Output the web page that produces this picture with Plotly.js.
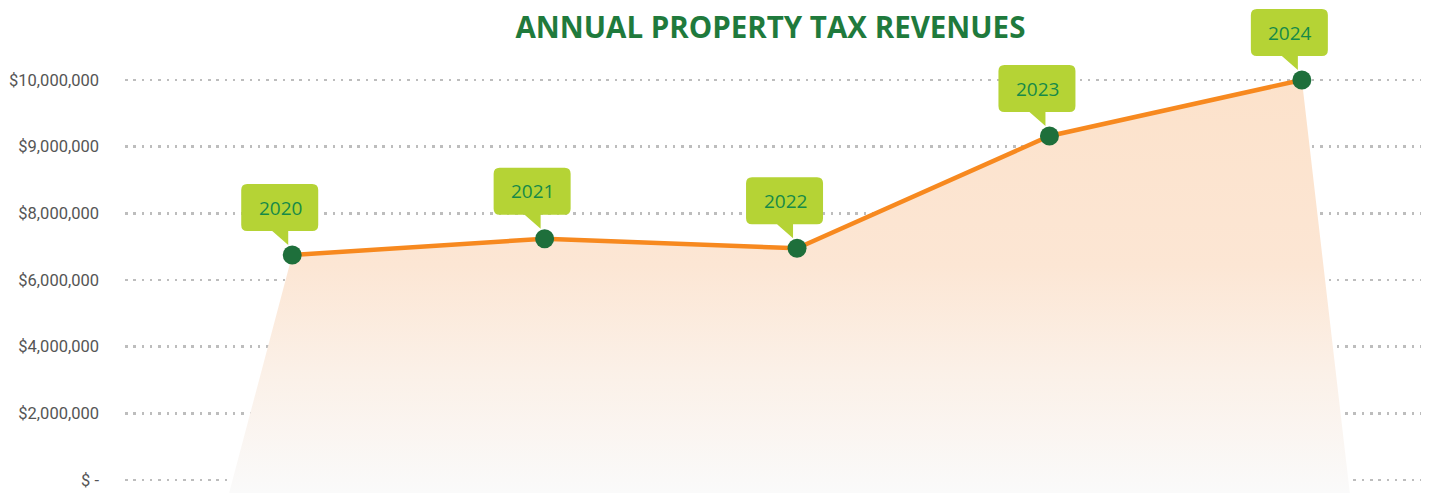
<!DOCTYPE html>
<html>
<head>
<meta charset="utf-8">
<script src="https://cdn.plot.ly/plotly-3.0.1.min.js"></script>
<style>
  html, body { margin: 0; padding: 0; background: #ffffff; }
  #chart { width: 1432px; height: 493px; }
</style>
</head>
<body>
<div id="chart"></div>
<script>
// ---- Data ----
const years = [2020, 2021, 2022, 2023, 2024];
const revenues = [6750000, 7240000, 6950000, 9160000, 10000000];
const tickValues = [0, 2000000, 4000000, 6000000, 8000000, 9000000, 10000000];
const tickLabels = ['$ -', '$2,000,000', '$4,000,000', '$6,000,000', '$8,000,000', '$9,000,000', '$10,000,000'];
const pointLabels = ['2020', '2021', '2022', '2023', '2024'];
const chartTitle = 'ANNUAL PROPERTY TAX REVENUES';

// The original axis places its (unevenly spaced) dollar ticks at equal steps,
// so dollar values are mapped piecewise-linearly onto tick-step positions.
function toPos(v) {
  for (let i = 0; i < tickValues.length - 1; i++) {
    const a = tickValues[i], b = tickValues[i + 1];
    if (v <= b || i === tickValues.length - 2) {
      return i + (v - a) / (b - a);
    }
  }
  return 0;
}
const yPos = revenues.map(toPos);
const tickPos = tickValues.map(toPos);

// ---- Styles ----
const GREEN_DARK = '#1e6f3b';
const ORANGE = '#f7891f';
const LIME = '#b5d335';
const LABEL_GREEN = '#168a48';
const yBottom = -0.195;
const yTop = 7.2;

// fill polygon (shaded area under the line, flaring out to the bottom)
const fillX = [years[0] - 0.25].concat(years, [years[years.length - 1] + 0.19]);
const fillY = [yBottom].concat(yPos, [yBottom]);

const traces = [
  {
    x: fillX, y: fillY, type: 'scatter', mode: 'none',
    fill: 'toself',
    fillgradient: {
      type: 'vertical',
      colorscale: [[0, 'rgba(250,250,250,1)'], [0.3, '#fbf0e7'], [0.55, '#fce6d4'], [1, '#fce2cb']]
    },
    hoverinfo: 'skip', showlegend: false
  },
  {
    x: years, y: yPos, type: 'scatter', mode: 'lines+markers',
    line: { color: ORANGE, width: 4.5 },
    marker: { color: GREEN_DARK, size: 19 },
    showlegend: false, cliponaxis: false
  }
];

// callout bubble path in pixels relative to the point (y up)
function bubblePath() {
  const L = -51, R = 26, B = 24, T = 71, r = 6;
  return `M ${L + r},${B} L -20,${B} L -4,10 L -4,${B} L ${R - r},${B} ` +
         `Q ${R},${B} ${R},${B + r} L ${R},${T - r} Q ${R},${T} ${R - r},${T} ` +
         `L ${L + r},${T} Q ${L},${T} ${L},${T - r} L ${L},${B + r} Q ${L},${B} ${L + r},${B} Z`;
}

const shapes = years.map((yr, i) => ({
  type: 'path', xref: 'x', yref: 'y',
  xsizemode: 'pixel', ysizemode: 'pixel',
  xanchor: yr, yanchor: yPos[i],
  path: bubblePath(),
  fillcolor: LIME, line: { width: 0 }, layer: 'above'
}));

const annotations = years.map((yr, i) => ({
  x: yr, y: yPos[i], xref: 'x', yref: 'y',
  text: pointLabels[i], showarrow: false,
  xshift: -12, yshift: 47.5,
  font: { family: 'Open Sans, sans-serif', size: 19, color: LABEL_GREEN }
}));

const layout = {
  width: 1432, height: 493,
  margin: { l: 125, r: 11, t: 0, b: 0 },
  paper_bgcolor: '#ffffff', plot_bgcolor: '#ffffff',
  title: {
    text: '<b>' + chartTitle + '</b>',
    x: 0.538, xanchor: 'center', y: 0.943, yanchor: 'middle',
    font: { family: 'Open Sans, sans-serif', size: 29.5, color: '#1f7a3c' }
  },
  xaxis: {
    range: [2019.3375, 2024.472], showgrid: false, zeroline: false,
    showticklabels: false, showline: false, fixedrange: true
  },
  yaxis: {
    range: [yBottom, yTop], tickmode: 'array', tickvals: tickPos, ticktext: tickLabels,
    showgrid: true, gridcolor: '#bdbdbd', gridwidth: 2.5, griddash: '2.5px,5.8px',
    zeroline: false, showline: false, ticks: '', ticklabelstandoff: 25,
    tickfont: { family: 'Roboto, sans-serif', size: 16.5, color: '#555555' },
    fixedrange: true
  },
  shapes: shapes,
  annotations: annotations,
  showlegend: false
};

Plotly.newPlot('chart', traces, layout, { displayModeBar: false, staticPlot: true });
</script>
</body>
</html>
